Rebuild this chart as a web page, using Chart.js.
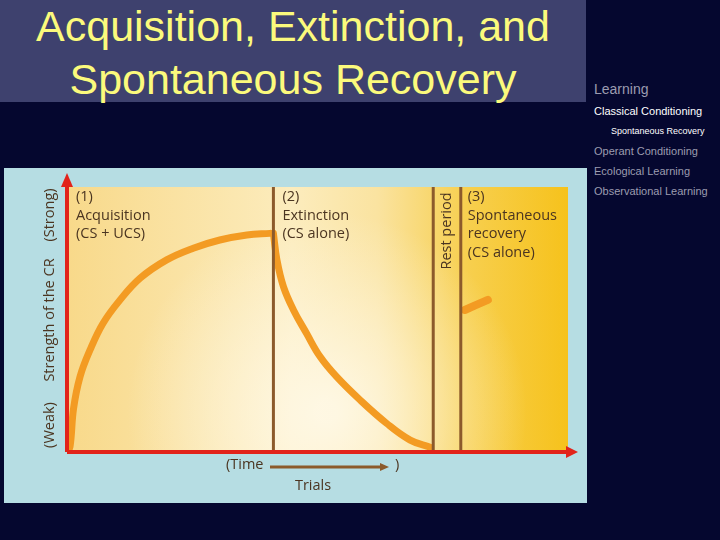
<!DOCTYPE html>
<html>
<head>
<meta charset="utf-8">
<script src="https://cdn.jsdelivr.net/npm/chart.js@4"></script>
<style>
  html, body { margin: 0; padding: 0; }
  body { width: 720px; height: 540px; background: #05072f; position: relative; overflow: hidden; font-family: "Liberation Sans", Arial, sans-serif; }
  .title-band { position: absolute; left: 0; top: 0; width: 586px; height: 102px; background: #3e416e; }
  .title { position: absolute; left: 0; top: 0; width: 586px; text-align: center; color: #fbfa7c; font-size: 43px; line-height: 53px; }
  .menu div { position: absolute; left: 594px; white-space: nowrap; color: #9c9cb0; font-size: 11px; }
  .panel { position: absolute; left: 4px; top: 168px; width: 583px; height: 335px; background: #b6dde3; }
  .panel canvas { display: block; }
</style>
</head>
<body>
<div class="title-band"></div>
<div class="title">Acquisition, Extinction, and<br>Spontaneous Recovery</div>
<div class="menu">
  <div style="top:81px;font-size:14px;">Learning</div>
  <div style="top:105px;color:#ffffff;">Classical Conditioning</div>
  <div style="top:126px;left:611px;color:#ffffff;font-size:9px;">Spontaneous Recovery</div>
  <div style="top:145px;">Operant Conditioning</div>
  <div style="top:165px;">Ecological Learning</div>
  <div style="top:185px;">Observational Learning</div>
</div>
<div class="panel"><canvas id="cr" width="583" height="335"></canvas></div>

<script>
// strength of the CR (0 = weak, 100 = strong) against trials (0..100)
var acquisitionX = [0, 0.6, 1.3, 2.6, 4.6, 7.2, 10.6, 14.6, 19.9, 25.2, 30.5, 35.9, 40.5];
var acquisitionY = [0, 2.0, 16.3, 28.4, 38.5, 48.6, 57.4, 65.6, 72.5, 76.9, 80.0, 81.9, 82.5];
var extinctionX = [41.2, 41.9, 43.2, 45.2, 47.8, 50.5, 53.8, 58.5, 63.8, 68.5, 72.5];
var extinctionY = [82.5, 72.5, 62.4, 53.6, 44.8, 36.0, 28.4, 19.6, 10.8, 4.5, 1.8];
var recoveryX = [79.4, 84.0];
var recoveryY = [53.6, 57.4];
var phaseBounds = [41.2, 73.1, 78.6]; // end of acquisition, start / end of rest period

function pts(xs, ys) {
  return xs.map(function (x, i) { return { x: x, y: ys[i] }; });
}

var curveStyle = {
  borderColor: '#f39b23', borderWidth: 7, pointRadius: 0,
  borderCapStyle: 'round', borderJoinStyle: 'round',
  tension: 0.4, fill: false
};

var datasets = phaseBounds.map(function (b) {
  return { data: [{ x: b, y: 0 }, { x: b, y: 100 }], borderColor: '#8c5a2b', borderWidth: 3, pointRadius: 0 };
});
datasets.push(Object.assign({ data: pts(acquisitionX, acquisitionY) }, curveStyle));
datasets.push(Object.assign({ data: pts(extinctionX, extinctionY) }, curveStyle));
datasets.push(Object.assign({ data: pts(recoveryX, recoveryY) }, curveStyle, { borderWidth: 8 }));

var backdrop = {
  id: 'backdrop',
  beforeDatasetsDraw: function (chart) {
    var c = chart.ctx, a = chart.chartArea;
    c.save();
    var g = c.createLinearGradient(a.left, 0, a.right, 0);
    g.addColorStop(0, '#f8d98a');
    g.addColorStop(0.45, '#fcecbd');
    g.addColorStop(0.62, '#fae3a0');
    g.addColorStop(0.8, '#f7cf4e');
    g.addColorStop(1, '#f6c21c');
    c.fillStyle = g;
    c.fillRect(a.left, a.top, a.right - a.left, a.bottom - a.top);
    var r = c.createRadialGradient(a.left + 260, a.bottom - 40, 10, a.left + 260, a.bottom - 40, 200);
    r.addColorStop(0, 'rgba(255,250,235,0.85)');
    r.addColorStop(1, 'rgba(255,250,235,0)');
    c.fillStyle = r;
    c.fillRect(a.left, a.top, a.right - a.left, a.bottom - a.top);
    c.restore();
  },
  afterDatasetsDraw: function (chart) {
    var c = chart.ctx, a = chart.chartArea;
    c.save();
    // axes with arrow heads
    c.strokeStyle = '#e2231a'; c.fillStyle = '#e2231a'; c.lineWidth = 4;
    c.beginPath();
    c.moveTo(a.left, a.bottom); c.lineTo(a.left, a.top - 6);
    c.moveTo(a.left, a.bottom); c.lineTo(a.right + 2, a.bottom);
    c.stroke();
    c.beginPath();
    c.moveTo(a.left, a.top - 14); c.lineTo(a.left - 6, a.top); c.lineTo(a.left + 6, a.top); c.closePath(); c.fill();
    c.beginPath();
    c.moveTo(a.right + 10, a.bottom); c.lineTo(a.right - 2, a.bottom - 6); c.lineTo(a.right - 2, a.bottom + 6); c.closePath(); c.fill();

    // labels
    c.fillStyle = '#4b3521';
    c.font = '14.5px "Open Sans", sans-serif';
    c.textBaseline = 'middle';
    var xs = chart.scales.x;
    function block(x, lines) {
      lines.forEach(function (t, i) { c.fillText(t, x, a.top + 10 + i * 18.5); });
    }
    block(a.left + 9, ['(1)', 'Acquisition', '(CS + UCS)']);
    block(xs.getPixelForValue(phaseBounds[0]) + 9, ['(2)', 'Extinction', '(CS alone)']);
    block(xs.getPixelForValue(phaseBounds[2]) + 7, ['(3)', 'Spontaneous', 'recovery', '(CS alone)']);

    c.save();
    c.translate((xs.getPixelForValue(phaseBounds[1]) + xs.getPixelForValue(phaseBounds[2])) / 2, a.top + 44);
    c.rotate(-Math.PI / 2);
    c.textAlign = 'center';
    c.fillText('Rest period', 0, 0);
    c.restore();

    c.save();
    c.translate(a.left - 17, 0);
    c.rotate(-Math.PI / 2);
    c.textAlign = 'center';
    c.fillText('(Strong)', -(a.top + 28), 0);
    c.fillText('Strength of the CR', -(a.top + 133), 0);
    c.fillText('(Weak)', -(a.top + 238), 0);
    c.restore();

    c.textAlign = 'left';
    c.fillText('(Time', 222, a.bottom + 13);
    c.fillText(')', 391, a.bottom + 13);
    c.textAlign = 'center';
    c.fillText('Trials', 309, a.bottom + 34);
    c.strokeStyle = '#8c5a2b'; c.fillStyle = '#8c5a2b'; c.lineWidth = 3;
    c.beginPath(); c.moveTo(266, a.bottom + 15); c.lineTo(378, a.bottom + 15); c.stroke();
    c.beginPath(); c.moveTo(385, a.bottom + 15); c.lineTo(376, a.bottom + 11); c.lineTo(376, a.bottom + 19); c.closePath(); c.fill();
    c.restore();
  }
};

new Chart(document.getElementById('cr').getContext('2d'), {
  type: 'line',
  data: { datasets: datasets },
  options: {
    responsive: false,
    animation: false,
    layout: { padding: { left: 63, right: 19, top: 19, bottom: 51 } },
    plugins: { legend: { display: false }, tooltip: { enabled: false } },
    scales: {
      x: { type: 'linear', min: 0, max: 100, display: false },
      y: { min: 0, max: 100, display: false }
    }
  },
  plugins: [backdrop]
});
</script>
</body>
</html>
